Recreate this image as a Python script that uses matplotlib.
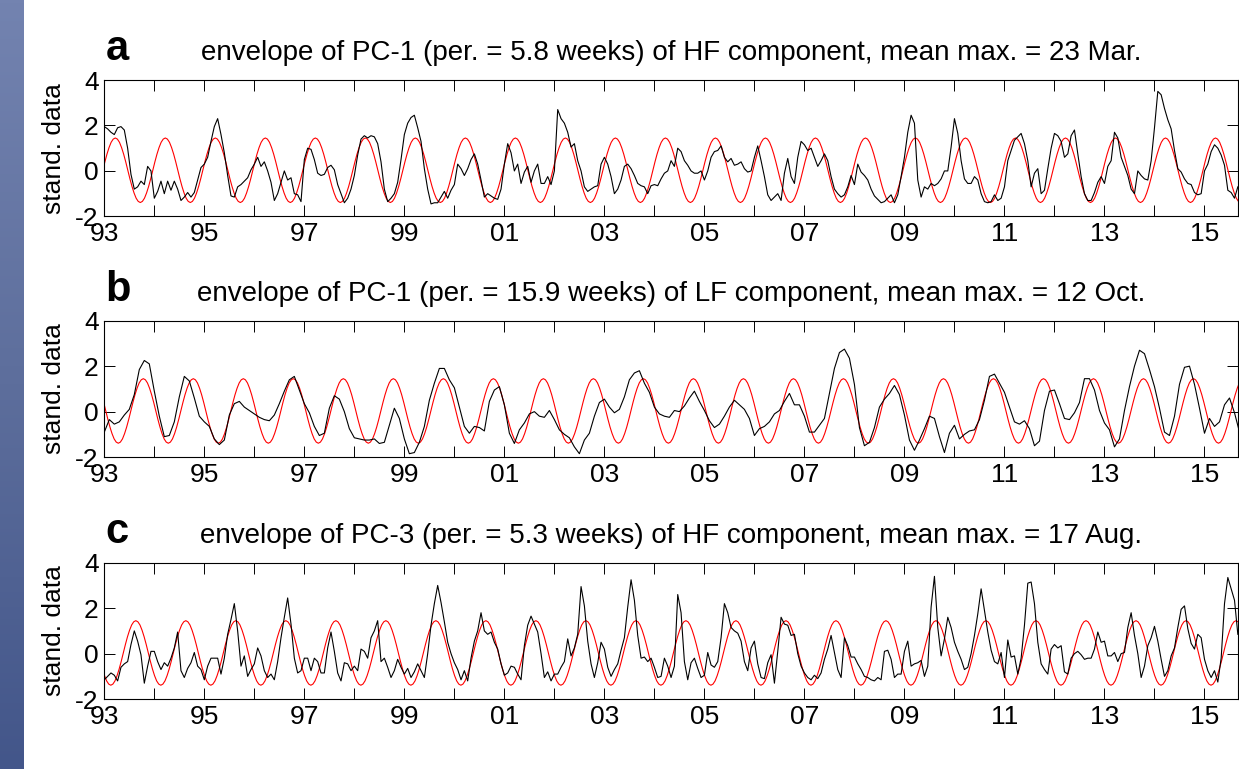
import numpy as np
import matplotlib
matplotlib.use("Agg")
import matplotlib.pyplot as plt
from matplotlib.colors import LinearSegmentedColormap

plt.rcParams['font.family'] = ['Liberation Sans', 'DejaVu Sans']
plt.rcParams['axes.unicode_minus'] = False

# envelope of PC-1, HF component: 15 readings per year, one row per year from 1993
hf_pc1 = [
    [1.95, 1.85, 1.7, 1.6, 1.9, 1.95, 1.8, 1.0, -0.15, -0.8, -0.7, -0.45, -0.6, 0.2, 0.0],
    [-1.2, -0.9, -0.45, -1.0, -0.45, -0.85, -0.45, -0.8, -1.3, -1.15, -0.95, -1.15, -0.95, -0.4, 0.15],
    [0.3, 0.6, 1.3, 1.95, 2.3, 1.6, 0.8, -0.2, -1.1, -1.15, -0.7, -0.6, -0.45, -0.3, 0.05],
    [0.3, 0.6, 0.2, 0.4, 0.0, -0.5, -1.3, -1.0, -0.5, 0.0, -0.4, -0.3, -1.0, -1.05, -1.35],
    [0.5, 1.0, 0.95, 0.5, -0.1, -0.2, -0.15, 0.15, 0.25, 0.05, -0.6, -1.0, -1.4, -1.2, -0.8],
    [-0.2, 0.7, 1.4, 1.55, 1.45, 1.55, 1.5, 1.2, 0.4, -0.8, -1.35, -1.2, -1.0, -0.5, 0.5],
    [1.6, 2.1, 2.35, 2.45, 1.9, 1.3, 0.1, -0.8, -1.45, -1.4, -1.4, -1.15, -0.9, -1.2, -0.85],
    [-0.6, 0.3, 0.1, -0.2, 0.1, 0.5, 0.75, 0.3, -0.4, -1.15, -1.0, -1.1, -1.2, -1.25, -0.8],
    [0.3, 1.2, 0.8, 0.0, 0.3, -0.55, -0.05, 0.2, -0.5, 0.0, 0.3, -0.55, -0.55, -0.25, -0.6],
    [0.0, 2.7, 2.3, 2.1, 1.7, 1.05, 1.2, 0.45, 0.0, -0.7, -0.9, -0.8, -0.7, -0.65, 0.3],
    [0.6, 0.3, -0.25, -1.0, -0.8, -0.4, 0.2, 0.3, 0.1, -0.2, -0.55, -0.65, -0.7, -1.0, -0.65],
    [-0.6, -0.65, -0.35, -0.1, 0.0, 0.45, 0.2, 1.0, 0.85, 0.45, 0.25, 0.0, -0.1, -0.1, 0.0],
    [-0.4, 0.0, 0.6, 0.85, 0.9, 1.1, 0.6, 0.4, 0.55, 0.25, 0.3, 0.4, 0.1, -0.05, 0.0],
    [0.6, 1.1, 0.45, -0.25, -1.05, -1.3, -1.15, -1.0, -1.3, -0.1, 0.55, -0.25, -0.55, 0.6, 1.3],
    [1.15, 0.9, 1.0, 0.6, 0.2, 0.45, 0.75, 0.45, -0.25, -0.8, -1.0, -1.15, -1.05, -0.7, -0.2],
    [-0.6, 0.3, -0.05, -0.2, -0.4, -0.8, -1.1, -1.25, -1.4, -1.35, -1.2, -1.05, -1.4, -1.05, -0.25],
    [0.6, 1.7, 2.45, 2.1, -0.4, -1.15, -0.7, -0.8, -0.55, -0.65, -0.55, -0.35, 0.0, 0.0, 1.05],
    [2.3, 1.65, 0.45, -0.35, -0.55, -0.55, -0.25, -0.4, -1.0, -1.35, -1.4, -1.35, -1.05, -1.3, -1.2],
    [-0.7, 0.45, 0.9, 1.35, 1.5, 1.65, 1.2, 0.45, -0.7, -0.1, 0.1, -1.0, -0.85, 0.1, 1.0],
    [1.65, 1.55, 1.3, 0.6, 0.75, 1.55, 1.8, 0.75, -0.25, -1.0, -1.3, -1.3, -0.95, -0.5, -0.25],
    [-0.55, 0.2, 0.45, 1.7, 1.45, 0.6, 0.2, -0.2, -0.8, -1.0, 0.0, -0.2, -0.35, -0.4, 0.45],
    [1.9, 3.5, 3.35, 2.75, 2.25, 1.85, 0.9, 0.1, -0.05, -0.35, -0.55, -0.6, -0.95, -1.05, -1.0],
    [0.0, 0.3, 0.85, 1.15, 1.0, 0.7, 0.25, -0.85, -0.95, -1.2, -0.7],
]

# envelope of PC-1, LF component: 10 readings per year
lf_pc1 = [
    [-0.9, -0.35, -0.55, -0.45, -0.15, 0.1, 0.75, 1.85, 2.25, 2.1],
    [0.9, -0.2, -1.1, -1.05, -0.45, 0.65, 1.55, 1.35, 0.6, -0.2],
    [-0.45, -0.65, -1.2, -1.45, -1.25, -0.15, 0.35, 0.45, 0.2, 0.05],
    [-0.1, -0.25, -0.35, -0.4, -0.15, 0.35, 0.9, 1.4, 1.55, 0.95],
    [0.35, -0.05, -0.65, -1.05, -0.95, 0.15, 0.7, 0.55, 0.0, -0.75],
    [-1.15, -1.2, -1.25, -1.25, -1.2, -1.4, -1.35, -0.6, 0.15, -0.3],
    [-1.2, -1.85, -1.8, -1.35, -0.65, 0.5, 1.25, 1.9, 1.9, 1.4],
    [1.05, 0.2, -0.65, -0.95, -0.65, -0.7, -0.85, 0.45, 0.95, 1.1],
    [0.3, -0.95, -1.4, -0.8, -0.5, -0.1, 0.0, -0.2, -0.25, 0.05],
    [-0.35, -0.8, -1.0, -1.15, -1.55, -1.85, -1.25, -0.95, -0.2, 0.4],
    [0.55, 0.2, -0.05, 0.1, 0.65, 1.4, 1.7, 1.8, 1.25, 0.85],
    [0.2, -0.1, -0.2, -0.25, 0.05, 0.0, 0.25, 0.6, 0.9, 0.45],
    [0.05, -0.4, -0.7, -0.55, -0.2, 0.2, 0.5, 0.3, 0.1, -0.3],
    [-1.05, -0.75, -0.65, -0.45, -0.1, 0.05, 0.45, 0.8, 0.3, 0.3],
    [-0.2, -0.9, -0.9, -0.6, -0.3, 0.8, 1.9, 2.6, 2.75, 2.35],
    [1.2, -0.7, -1.5, -1.35, -0.7, 0.2, 0.55, 0.8, 1.15, 0.75],
    [-0.15, -1.25, -1.7, -1.25, -0.75, -0.2, -0.3, -1.1, -1.8, -0.95],
    [-0.6, -1.2, -1.0, -0.85, -0.8, -0.35, 0.5, 1.55, 1.65, 1.25],
    [0.85, 0.2, -0.45, -0.55, -0.4, -0.75, -1.5, -1.3, 0.05, 0.9],
    [0.95, 0.35, -0.3, -0.35, -0.05, 0.4, 1.45, 1.45, 0.95, 0.05],
    [-0.5, -0.8, -1.55, -1.2, 0.05, 1.1, 2.0, 2.7, 2.55, 1.85],
    [1.1, 0.15, -0.9, -1.05, -0.2, 1.2, 1.95, 2.0, 1.2, 0.15],
    [-0.95, -0.3, -0.65, -0.45, 0.3, 0.6, -0.05, -0.9],
]

# envelope of PC-3, HF component: 15 readings per year
hf_pc3 = [
    [-1.15, -1.0, -0.85, -0.95, -1.2, -0.6, -0.45, -0.35, 0.4, 1.0, 0.55, -0.05, -1.3, -0.55, 0.1],
    [0.1, -0.35, -0.7, -0.4, -0.55, -0.2, 0.25, 0.95, -0.75, -1.05, -0.65, -0.4, 0.05, -0.55, -0.7],
    [-1.15, -0.55, -0.2, -0.2, -0.2, -0.9, -0.2, 0.85, 1.5, 2.2, 1.0, -0.55, -0.1, -1.0, -0.7],
    [-0.45, 0.25, -0.1, -0.75, -1.05, -0.9, -1.15, -0.35, 0.7, 1.6, 2.45, 1.3, -0.2, -0.85, -0.75],
    [-0.2, -0.2, -0.75, -0.2, -0.35, -0.85, -0.85, 0.25, 0.95, 0.1, -0.85, -1.2, -0.4, -0.45, -0.75],
    [-0.55, -0.75, 0.2, 0.1, -0.2, 0.7, 1.0, 1.45, -0.35, -0.2, -0.6, -1.05, -0.75, -0.25, -0.6],
    [-0.9, -0.65, -1.05, -0.8, -0.45, -0.75, -1.05, 0.0, 1.25, 2.2, 3.0, 2.25, 1.4, 0.5, 0.0],
    [-0.4, -0.7, -1.15, -0.75, -1.2, -0.2, 0.55, 1.0, 1.8, 1.0, 0.85, 0.95, 0.5, 0.2, -0.45],
    [-0.95, -0.85, -0.55, -0.6, -0.9, -1.15, 0.35, 1.25, 1.65, 1.3, 0.95, 0.0, -1.05, -0.8, -1.2],
    [-0.9, -0.9, -0.6, -0.35, 0.65, -0.1, 0.25, 0.85, 2.95, 2.1, 0.55, -0.45, -1.05, -0.4, 0.5],
    [0.2, -0.6, -1.0, -0.7, -0.45, 0.15, 0.7, 2.05, 3.25, 2.35, 0.8, -0.2, -0.15, -0.35, -0.2],
    [-0.6, -1.05, -1.0, -0.2, -0.55, -1.05, -0.55, 2.6, 1.8, -0.35, -1.15, -0.4, -0.2, -0.65, -1.05],
    [-0.95, 0.05, -0.5, -0.6, -0.35, 0.7, 2.2, 1.8, 1.15, 1.0, 0.9, 0.55, -0.35, -0.75, 0.25],
    [0.55, -0.45, -1.05, -1.1, -0.4, -0.05, -1.3, 0.1, 1.6, 1.3, 1.25, 0.8, 0.85, 0.0, -0.55],
    [-0.85, -1.05, -1.15, -0.95, -1.1, -0.85, -0.25, 0.2, 0.8, 0.05, -0.7, -1.05, 0.7, 0.35, -0.15],
    [-0.15, -0.45, -0.7, -1.0, -1.05, -1.15, -1.2, -1.05, -1.15, 0.1, 0.15, -0.25, -1.05, -0.9, -0.9],
    [0.1, 0.55, -0.55, -0.45, -0.4, -0.3, -1.0, -0.55, 2.05, 3.4, 1.15, -0.1, 0.65, 1.6, 1.15],
    [0.5, 0.1, -0.25, -0.7, -0.6, 0.0, 0.8, 1.75, 2.85, 1.9, 0.95, 0.15, -0.35, -0.45, 0.05],
    [-1.05, 0.6, -0.15, -0.1, -0.9, -0.2, 1.25, 3.1, 3.15, 2.2, 0.5, -0.45, -0.7, -0.9, 0.2],
    [0.4, 0.25, 0.35, -0.8, -0.9, -0.2, 0.0, 0.1, -0.05, -0.25, -0.2, -0.2, 0.2, 0.95, 0.5],
    [0.55, -0.1, -0.1, 0.05, -0.35, 0.0, 0.05, 1.15, 1.8, 0.8, 0.0, -1.05, -0.55, 0.35, 0.7],
    [1.2, 0.55, -0.25, -1.0, -0.75, -0.1, 0.25, 1.15, 1.95, 2.1, 1.1, 0.45, 0.2, 0.85, 0.7],
    [-0.25, -0.75, -1.05, -0.75, -1.25, -0.2, 2.2, 3.35, 2.85, 2.35, 0.85],
]

series = [hf_pc1, lf_pc1, hf_pc3]
per_year = [15, 10, 15]

# fitted annual cycle, read at half-month steps starting at the mean maximum
red_cycle = [1.45, 1.40, 1.26, 1.03, 0.74, 0.40, 0.03, -0.34, -0.68, -0.97, -1.20, -1.34,
             -1.39, -1.34, -1.20, -0.97, -0.68, -0.34, 0.03, 0.40, 0.74, 1.03, 1.26, 1.40]
peak_phase = [0.22, 0.78, 0.63]  # 23 Mar, 12 Oct, 17 Aug as fraction of year

letters = ['a', 'b', 'c']
titles = [
    'envelope of PC-1 (per. = 5.8 weeks) of HF component, mean max. = 23 Mar.',
    'envelope of PC-1 (per. = 15.9 weeks) of LF component, mean max. = 12 Oct.',
    'envelope of PC-3 (per. = 5.3 weeks) of HF component, mean max. = 17 Aug.',
]

years = list(range(1993, 2016))
year_labels = ["%02d" % (y % 100) if y % 2 == 1 else '' for y in years]

W, H = 1239, 769
fig = plt.figure(figsize=(W / 100, H / 100), dpi=100)
fig.patch.set_facecolor('white')

# blue strip on the left
sax = fig.add_axes([0, 0, 24 / W, 1])
cmap = LinearSegmentedColormap.from_list('strip', ['#7383b0', '#5d6e9c', '#43568a'])
sax.imshow(np.linspace(0, 1, 256).reshape(-1, 1), aspect='auto', cmap=cmap, extent=[0, 1, 0, 1])
sax.set_axis_off()

left = 104.3 / W
width = 1133.2 / W
tops = [80, 320.7, 562.7]
h_px = 136.4

for i in range(3):
    ax = fig.add_axes([left, 1 - (tops[i] + h_px) / H, width, h_px / H])
    vals = np.concatenate([np.array(r, dtype=float) for r in series[i]])
    t = 1993 + np.arange(len(vals)) / per_year[i]

    cyc_years = np.arange(1992, 2017)
    rx = (cyc_years[:, None] + peak_phase[i] + np.arange(len(red_cycle))[None, :] / 24).ravel()
    ry = np.tile(red_cycle, len(cyc_years))
    ax.plot(rx, ry, color='#ff0000', lw=0.8)
    ax.plot(t, vals, color='black', lw=0.8)

    ax.set_xlim(1993, 2015.66)
    ax.set_ylim(-2, 4)
    ax.set_xticks(years)
    ax.set_xticklabels(year_labels)
    ax.set_yticks([-2, 0, 2, 4])
    ax.tick_params(direction='in', length=8, width=0.7, top=True, right=True,
                   labelsize=19, pad=4)
    for s in ax.spines.values():
        s.set_linewidth(0.8)
    ax.set_ylabel('stand. data', fontsize=19)
    ax.yaxis.set_label_coords(-0.034, 0.5)

    yb = 1 + 20 / h_px
    ax.text(0.5, yb, titles[i], transform=ax.transAxes, ha='center', va='baseline', fontsize=20)
    ax.text(0.001, yb, letters[i], transform=ax.transAxes, ha='left', va='baseline',
            fontsize=30, fontweight='bold')

fig.savefig('out.png', dpi=100, facecolor='white')
